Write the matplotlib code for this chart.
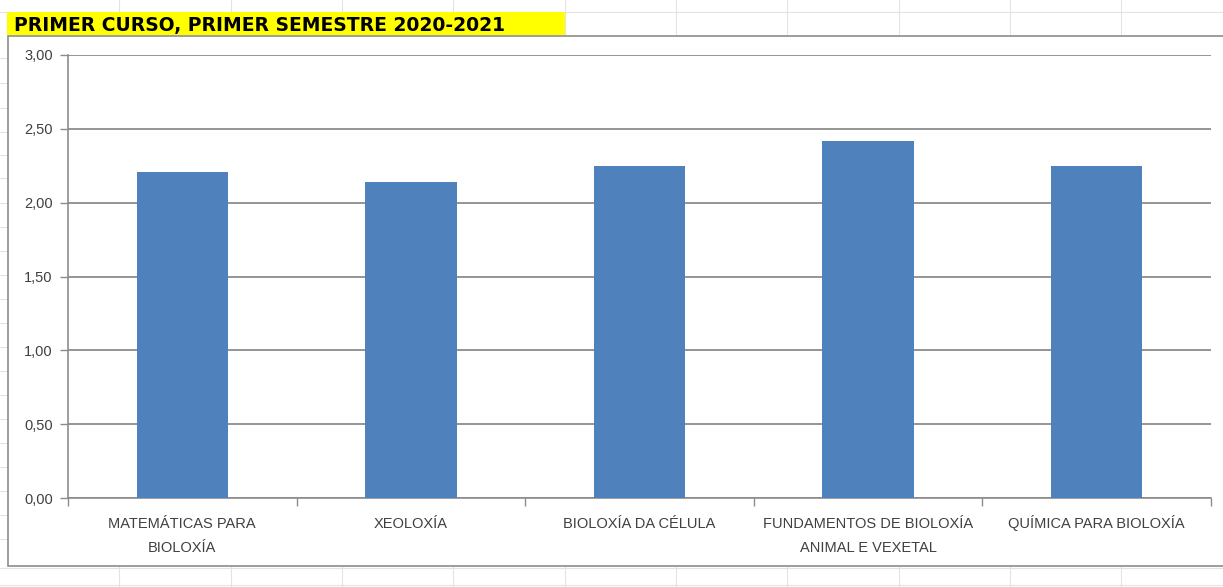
import matplotlib.pyplot as plt
from matplotlib.lines import Line2D
from matplotlib.patches import Rectangle

# data
materias = ["MATEMÁTICAS PARA\nBIOLOXÍA", "XEOLOXÍA", "BIOLOXÍA DA CÉLULA",
            "FUNDAMENTOS DE BIOLOXÍA\nANIMAL E VEXETAL", "QUÍMICA PARA BIOLOXÍA"]
notas = [2.21, 2.14, 2.25, 2.42, 2.25]
yticks = [0, 0.5, 1.0, 1.5, 2.0, 2.5, 3.0]
titulo = "PRIMER CURSO, PRIMER SEMESTRE 2020-2021"

W, H = 1223, 587
fig = plt.figure(figsize=(W / 100, H / 100), dpi=100)
fig.patch.set_facecolor("white")

def px(x, y):
    return x / W, 1 - y / H

# spreadsheet grid in the background
for x in [119, 231, 342, 453, 565, 676, 787, 899, 1010, 1121]:
    fig.add_artist(Line2D([x / W, x / W], [0, 1], color="#e3e3e3", lw=0.8, zorder=0))
for y in [12, 568, 585]:
    fig.add_artist(Line2D([0, 1], [1 - y / H] * 2, color="#e3e3e3", lw=0.8, zorder=0))
for y in [58, 83, 108, 132, 155, 178, 203, 227, 251, 275, 299, 323, 347, 371,
          395, 419, 443, 467, 491, 515, 539]:
    fig.add_artist(Line2D([0, 7 / W], [1 - y / H] * 2, color="#e3e3e3", lw=0.8, zorder=0))

# chart frame (white, covers the grid)
x0, y0 = px(8, 566)
fig.add_artist(Rectangle((x0, y0), 1.05 - x0, (1 - 36 / H) - y0, facecolor="white",
                         edgecolor="#8c8c8c", lw=1.2, zorder=1))

# yellow title cell
cx, cy = px(7, 35)
fig.add_artist(Rectangle((cx, cy), 558 / W, 23 / H, facecolor="#ffff00",
                         edgecolor="none", zorder=2))
fig.text(14 / W, 1 - 31 / H, titulo, fontsize=13.5, fontweight="bold",
         family="DejaVu Sans", va="baseline", ha="left", zorder=3)

ax = fig.add_axes([68 / W, 1 - 498 / H, (1211 - 68) / W, (498 - 55) / H], zorder=4)
ax.patch.set_alpha(0)

pos = range(len(notas))
ax.bar(pos, notas, width=0.4, color="#4f81bd", zorder=3)

ax.set_xlim(-0.5, len(notas) - 0.5)
ax.set_ylim(0, 3)
ax.set_yticks(yticks)
ax.set_yticklabels([f"{v:.2f}".replace(".", ",") for v in yticks],
                   fontsize=10.5, color="#404040", family="Liberation Sans")
ax.yaxis.grid(True, color="#8c8c8c", lw=1.3)
ax.set_axisbelow(True)

ax.set_xticks([p - 0.5 for p in range(len(notas) + 1)])
ax.set_xticklabels([])
ax.tick_params(axis="x", length=6, color="#8c8c8c", width=1)
ax.tick_params(axis="y", length=6, color="#8c8c8c", width=1, pad=5)

# category labels, one line at a time so every first line sits on the same baseline
ppu = (498 - 55) / 3.0  # pixels per unit on y
for p, lab in zip(pos, materias):
    for i, linea in enumerate(lab.split("\n")):
        yb = -(30 + 24 * i) / ppu
        ax.text(p, yb, linea, ha="center", va="baseline", fontsize=10.5,
                color="#404040", family="Liberation Sans", clip_on=False)

for s in ["top", "right"]:
    ax.spines[s].set_visible(False)
for s in ["left", "bottom"]:
    ax.spines[s].set_color("#8c8c8c")
    ax.spines[s].set_linewidth(1.2)

fig.savefig("out.png", dpi=100)
